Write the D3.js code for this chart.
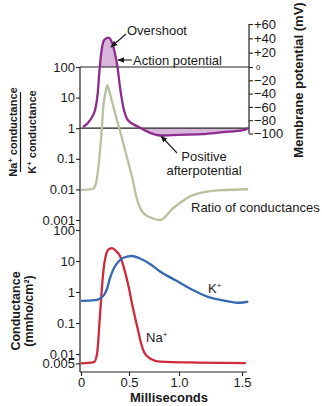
<!DOCTYPE html>
<html>
<head>
<meta charset="utf-8">
<script src="https://cdn.jsdelivr.net/npm/d3@7"></script>
<style>
  body { margin: 0; background: #fff; }
  svg { display: block; }
  text { font-family: "Liberation Sans", Arial, Helvetica, sans-serif; fill: #1a1a1a; }
</style>
</head>
<body>
<div id="chart"></div>
<script>
// time axis (ms)
var xTicks = [0, 0.5, 1.0, 1.5];

// membrane potential, mV
var mpTime   = [0.02, 0.06, 0.094, 0.146, 0.174, 0.19, 0.21, 0.243, 0.284, 0.326, 0.354, 0.382, 0.406, 0.44, 0.49, 0.593, 0.71, 0.81, 1.0, 1.18, 1.35, 1.51, 1.55];
var mpValues = [-90, -86, -80, -65, -40, -10, 19, 38, 41, 33, 19, -2, -30, -60, -80, -90, -99, -103, -102, -101, -98, -95, -92];
var mvTicks  = [60, 40, 20, 0, -20, -40, -60, -80, -100];

// Na+/K+ conductance ratio
var ratioTime   = [0, 0.125, 0.156, 0.177, 0.198, 0.216, 0.232, 0.255, 0.274, 0.295, 0.32, 0.375, 0.427, 0.479, 0.531, 0.583, 0.643, 0.747, 0.81, 0.94, 1.11, 1.33, 1.55];
var ratioValues = [0.0095, 0.0105, 0.016, 0.042, 0.19, 0.86, 5, 15, 25, 16, 8.2, 1.8, 0.47, 0.11, 0.025, 0.0044, 0.0017, 0.0011, 0.001, 0.0024, 0.0065, 0.0094, 0.0101];
var ratioTicks  = [100, 10, 1, 0.1, 0.01, 0.001];

// conductances, mmho/cm2
var naTime   = [0, 0.135, 0.167, 0.198, 0.229, 0.26, 0.292, 0.323, 0.365, 0.406, 0.448, 0.49, 0.54, 0.59, 0.62, 0.65, 0.71, 0.81, 1.15, 1.53];
var naValues = [0.005, 0.0055, 0.01, 0.18, 3.5, 15.6, 24.4, 26, 21, 14.5, 5.9, 1.8, 0.3, 0.059, 0.0226, 0.0116, 0.0072, 0.0057, 0.0053, 0.0051];
var kTime    = [0, 0.146, 0.198, 0.24, 0.27, 0.302, 0.344, 0.396, 0.448, 0.53, 0.61, 0.71, 0.81, 0.97, 1.11, 1.23, 1.38, 1.48, 1.55];
var kValues  = [0.52, 0.55, 0.62, 0.8, 1.25, 2.8, 5.9, 10, 13, 14.5, 12, 8, 4.6, 2.35, 1.16, 0.7, 0.51, 0.45, 0.49];
var condTicks = [100, 10, 1, 0.1, 0.01, 0.005];

var width = 322, height = 406;
var axisLeftX = 80, axisRightX = 249, axisBottomY = 372, axisEndX = 247;

var svg = d3.select("#chart")
  .append("svg")
    .attr("width", width)
    .attr("height", height);

// scales (time axis is drawn unevenly in the figure, hence the piecewise range)
var x = d3.scaleLinear().domain([0, 0.5, 1, 1.5]).range([81, 129, 179, 242]);
var yRatio = d3.scaleLog().domain([0.001, 100]).range([220, 67]);
var yCond = d3.scaleLog().domain([0.01, 100]).range([354, 230]);
var yMv = d3.scaleLinear().domain([-100, 0, 60]).range([133.5, 67, 24]);

function zip(t, v) { return t.map(function(d, i) { return { t: d, v: v[i] }; }); }
var mpData = zip(mpTime, mpValues);
var ratioData = zip(ratioTime, ratioValues);
var naData = zip(naTime, naValues);
var kData = zip(kTime, kValues);

// arrow marker
var defs = svg.append("defs");
defs.append("marker")
    .attr("id", "arrow")
    .attr("viewBox", "0 0 10 10")
    .attr("refX", 9).attr("refY", 5)
    .attr("markerWidth", 7).attr("markerHeight", 7)
    .attr("markerUnits", "userSpaceOnUse")
    .attr("orient", "auto")
  .append("path")
    .attr("d", "M0,1 L10,5 L0,9 Z")
    .style("fill", "#1a1a1a");

var zeroY = yMv(0), restY = yRatio(1);
defs.append("clipPath").attr("id", "clipOver")
  .append("rect").attr("x", 0).attr("y", 0).attr("width", width).attr("height", zeroY);
defs.append("clipPath").attr("id", "clipAfter")
  .append("rect").attr("x", 0).attr("y", restY).attr("width", width).attr("height", 40);

// shaded overshoot and afterpotential
var mpArea = function(base) {
  return d3.area()
    .x(function(d) { return x(d.t); })
    .y0(base)
    .y1(function(d) { return yMv(d.v); })
    .curve(d3.curveMonotoneX);
};
svg.append("path").datum(mpData)
    .attr("d", mpArea(zeroY))
    .attr("clip-path", "url(#clipOver)")
    .style("fill", "#d8b6db");
svg.append("path").datum(mpData)
    .attr("d", mpArea(restY))
    .attr("clip-path", "url(#clipAfter)")
    .style("fill", "#d8b6db");

// reference lines (0 mV / ratio 100, resting / ratio 1)
[zeroY, restY].forEach(function(yy) {
  svg.append("line")
    .attr("x1", axisLeftX).attr("x2", axisRightX)
    .attr("y1", yy).attr("y2", yy)
    .style("stroke", "#222").style("stroke-width", 1.2);
});

// left axis line, bottom axis line, right axis line
svg.append("line")
  .attr("x1", axisLeftX).attr("x2", axisLeftX).attr("y1", zeroY).attr("y2", axisBottomY)
  .style("stroke", "#222").style("stroke-width", 1.2);
svg.append("line")
  .attr("x1", axisLeftX).attr("x2", axisEndX).attr("y1", axisBottomY).attr("y2", axisBottomY)
  .style("stroke", "#222").style("stroke-width", 1.2);
svg.append("line")
  .attr("x1", axisRightX).attr("x2", axisRightX).attr("y1", yMv(60)).attr("y2", yMv(-100))
  .style("stroke", "#222").style("stroke-width", 1.2);

function styleAxis(g) {
  g.select(".domain").remove();
  g.selectAll(".tick line").style("stroke", "#222").style("stroke-width", 1.1);
  g.selectAll(".tick text")
    .style("font-size", "13px")
    .style("font-family", "Liberation Sans, Arial, sans-serif")
    .style("fill", "#1a1a1a");
}

var fmtNum = function(d) { return String(d); };

svg.append("g")
  .attr("transform", "translate(" + axisLeftX + ",0)")
  .call(d3.axisLeft(yRatio).tickValues(ratioTicks).tickFormat(fmtNum).tickSize(4).tickPadding(1))
  .call(styleAxis);

svg.append("g")
  .attr("transform", "translate(" + axisLeftX + ",0)")
  .call(d3.axisLeft(yCond).tickValues(condTicks).tickFormat(fmtNum).tickSize(4).tickPadding(1))
  .call(styleAxis);

svg.append("g")
  .attr("transform", "translate(0," + axisBottomY + ")")
  .call(d3.axisBottom(x).tickValues(xTicks)
    .tickFormat(function(d) { return d === 0 ? "0" : d.toFixed(1); })
    .tickSize(4).tickPadding(2))
  .call(styleAxis);

var rightAxis = svg.append("g")
  .attr("transform", "translate(" + axisRightX + ",0)")
  .call(d3.axisRight(yMv).tickValues(mvTicks)
    .tickFormat(function(d) { return d > 0 ? "+" + d : d < 0 ? "\u2212" + (-d) : "0"; })
    .tickSize(4).tickPadding(1))
  .call(styleAxis);
rightAxis.selectAll(".tick text")
  .filter(function(d) { return d === 0; })
  .style("font-size", "8px")
  .attr("x", 7);

// curves
var line = function(yScale) {
  return d3.line()
    .x(function(d) { return x(d.t); })
    .y(function(d) { return yScale(d.v); })
    .curve(d3.curveMonotoneX);
};

svg.append("path").datum(ratioData)
  .attr("d", line(yRatio))
  .style("fill", "none").style("stroke", "#b7c29c").style("stroke-width", 2.3);

svg.append("path").datum(mpData)
  .attr("d", line(yMv))
  .style("fill", "none").style("stroke", "#8d2b8d").style("stroke-width", 2.3);

svg.append("path").datum(naData)
  .attr("d", line(yCond))
  .style("fill", "none").style("stroke", "#cf2a3c").style("stroke-width", 2.3);

svg.append("path").datum(kData)
  .attr("d", line(yCond))
  .style("fill", "none").style("stroke", "#3768b0").style("stroke-width", 2.3);

// annotations
function label(txt, px, py, anchor) {
  return svg.append("text")
    .attr("x", px).attr("y", py)
    .attr("text-anchor", anchor || "start")
    .style("font-size", "13px")
    .text(txt);
}
label("Overshoot", 127, 35);
label("Action potential", 133, 64.5);
label("Positive", 204, 160.5, "middle");
label("afterpotential", 204, 174.5, "middle");
label("Ratio of conductances", 191, 212);

function arrow(x1, y1, x2, y2) {
  svg.append("line")
    .attr("x1", x1).attr("y1", y1).attr("x2", x2).attr("y2", y2)
    .attr("marker-end", "url(#arrow)")
    .style("stroke", "#1a1a1a").style("stroke-width", 1.1);
}
arrow(126, 34, 111, 47);
arrow(132, 60, 118, 60);
arrow(177, 153, 161, 136);

// ion labels with superscript +
function ionLabel(ion, px, py) {
  var t = svg.append("text").attr("x", px).attr("y", py).style("font-size", "13px");
  t.append("tspan").text(ion);
  t.append("tspan").attr("dy", -5).style("font-size", "8px").text("+");
}
ionLabel("K", 208, 293);
ionLabel("Na", 146, 341.5);

// axis titles
svg.append("text")
  .attr("x", 169).attr("y", 402)
  .attr("text-anchor", "middle")
  .style("font-size", "13px").style("font-weight", "bold")
  .text("Milliseconds");

svg.append("text")
  .attr("transform", "translate(303,80) rotate(-90)")
  .attr("text-anchor", "middle")
  .style("font-size", "13px").style("font-weight", "bold")
  .text("Membrane potential (mV)");

var condTitle = svg.append("text")
  .attr("transform", "translate(20,311) rotate(-90)")
  .attr("text-anchor", "middle")
  .style("font-size", "12.5px").style("font-weight", "bold");
condTitle.append("tspan").attr("x", 0).attr("y", 0).text("Conductance");
condTitle.append("tspan").attr("x", 0).attr("y", 12.5).text("(mmho/cm\u00b2)");

// ratio title as a stacked fraction
function fracPart(ion, px) {
  var t = svg.append("text")
    .attr("transform", "translate(" + px + ",132) rotate(-90)")
    .attr("text-anchor", "middle")
    .style("font-size", "11px").style("font-weight", "bold");
  t.append("tspan").text(ion);
  t.append("tspan").attr("dy", -4).style("font-size", "7.5px").text("+");
  t.append("tspan").attr("dy", 4).text(" conductance");
}
fracPart("Na", 17);
fracPart("K", 35.5);
svg.append("line")
  .attr("x1", 20.5).attr("x2", 20.5).attr("y1", 92).attr("y2", 172)
  .style("stroke", "#1a1a1a").style("stroke-width", 1.2);
</script>
</body>
</html>
